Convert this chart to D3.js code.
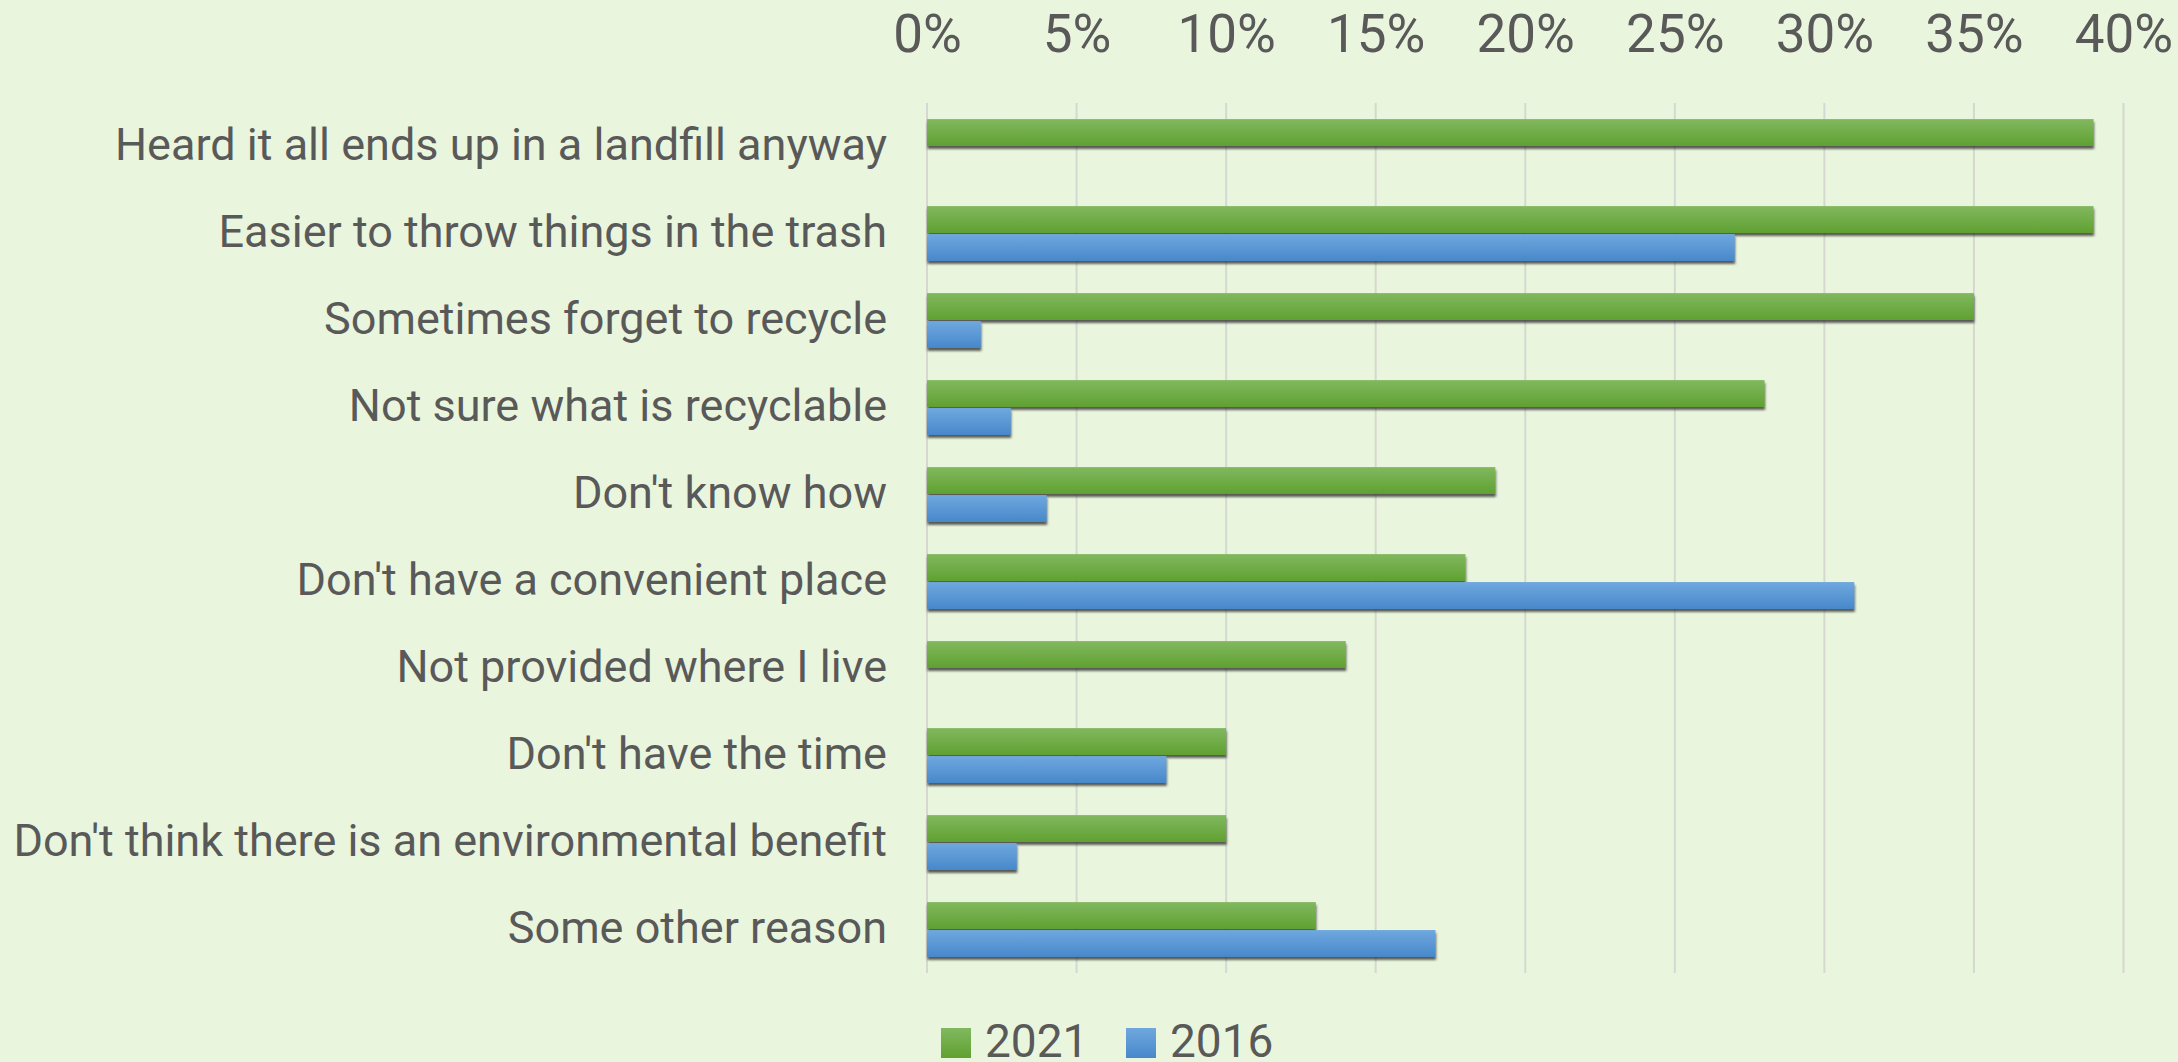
<!DOCTYPE html>
<html>
<head>
<meta charset="utf-8">
<script src="https://cdn.jsdelivr.net/npm/d3@7"></script>
<style>
  html, body { margin: 0; padding: 0; background: #eaf5dd; }
  svg { display: block; }
</style>
</head>
<body>
<div id="chart"></div>
<script>
var categories = [
    "Heard it all ends up in a landfill anyway",
    "Easier to throw things in the trash",
    "Sometimes forget to recycle",
    "Not sure what is recyclable",
    "Don't know how",
    "Don't have a convenient place",
    "Not provided where I live",
    "Don't have the time",
    "Don't think there is an environmental benefit",
    "Some other reason"
];
var seriesNames = ["2021", "2016"];
var values2021 = [39, 39, 35, 28, 19, 18, 14, 10, 10, 13];
var values2016 = [null, 27, 1.8, 2.8, 4, 31, null, 8, 3, 17];
var tickValues = [0, 5, 10, 15, 20, 25, 30, 35, 40];

var width = 2178, height = 1062;
var plotLeft = 927, plotRight = 2123.5, plotTop = 103, plotBottom = 973;

var svg = d3.select("#chart")
    .append("svg")
    .attr("width", width)
    .attr("height", height);

svg.append("rect")
    .attr("width", width)
    .attr("height", height)
    .attr("fill", "#eaf5dd");

var defs = svg.append("defs");

function gradient(id, c1, c2) {
    var g = defs.append("linearGradient")
        .attr("id", id)
        .attr("x1", 0).attr("y1", 0)
        .attr("x2", 0).attr("y2", 1);
    g.append("stop").attr("offset", "0%").attr("stop-color", c1);
    g.append("stop").attr("offset", "100%").attr("stop-color", c2);
}
gradient("g2021", "#81b85f", "#60a131");
gradient("g2016", "#70a8de", "#4788cb");

var shadow = defs.append("filter")
    .attr("id", "shadow")
    .attr("x", "-5%").attr("y", "-20%")
    .attr("width", "110%").attr("height", "150%");
shadow.append("feDropShadow")
    .attr("dx", 0.5)
    .attr("dy", 3)
    .attr("stdDeviation", 1.2)
    .attr("flood-color", "#2a2a2a")
    .attr("flood-opacity", 0.75);

var x = d3.scaleLinear()
    .domain([0, 40])
    .range([plotLeft, plotRight]);

var y = d3.scaleBand()
    .domain(categories)
    .range([plotTop, plotBottom])
    .paddingInner(0.37)
    .paddingOuter(0.185);

var ySub = d3.scaleBand()
    .domain(seriesNames)
    .range([0, y.bandwidth()])
    .paddingInner(0.04);

var color = d3.scaleOrdinal()
    .domain(seriesNames)
    .range(["url(#g2021)", "url(#g2016)"]);

// gridlines
svg.append("g")
    .selectAll("line")
    .data(tickValues)
    .enter()
    .append("line")
    .attr("x1", function(d) { return x(d); })
    .attr("x2", function(d) { return x(d); })
    .attr("y1", plotTop)
    .attr("y2", plotBottom)
    .attr("stroke", "#d5d8d0")
    .attr("stroke-width", 2);

// top axis labels
var xAxis = svg.append("g")
    .attr("transform", "translate(0,52)")
    .call(d3.axisTop(x)
        .tickValues(tickValues)
        .tickSize(0)
        .tickPadding(0)
        .tickFormat(function(d) { return d + "%"; }));
xAxis.select(".domain").remove();
xAxis.selectAll("text")
    .attr("font-family", "Roboto, 'Noto Sans', sans-serif")
    .attr("font-size", 53)
    .attr("fill", "#595959")
    .attr("dy", 0);

// category labels
svg.append("g")
    .selectAll("text")
    .data(categories)
    .enter()
    .append("text")
    .attr("x", 887)
    .attr("y", function(d) { return y(d) + y.bandwidth() / 2 + 13; })
    .attr("text-anchor", "end")
    .attr("font-family", "Roboto, 'Noto Sans', sans-serif")
    .attr("font-size", 45)
    .attr("fill", "#595959")
    .text(function(d) { return d; });

// bars
var rows = categories.map(function(c, i) {
    return {name: c, values: [
        {key: "2021", value: values2021[i]},
        {key: "2016", value: values2016[i]}
    ]};
});

var group = svg.append("g")
    .selectAll("g")
    .data(rows)
    .enter()
    .append("g")
    .attr("transform", function(d) { return "translate(0," + y(d.name) + ")"; });

group.selectAll("rect")
    .data(function(d) {
        return d.values.filter(function(v) { return v.value != null; });
    })
    .enter()
    .append("rect")
    .attr("x", x(0))
    .attr("y", function(d) { return ySub(d.key); })
    .attr("width", function(d) { return x(d.value) - x(0); })
    .attr("height", ySub.bandwidth())
    .attr("fill", function(d) { return color(d.key); })
    .attr("filter", "url(#shadow)");

// legend
var legend = svg.append("g")
    .selectAll("g")
    .data(seriesNames)
    .enter()
    .append("g")
    .attr("transform", function(d, i) { return "translate(" + (941 + i * 185) + ",1028)"; });

legend.append("rect")
    .attr("width", 30)
    .attr("height", 30)
    .attr("fill", function(d) { return color(d); });

legend.append("text")
    .attr("x", 44)
    .attr("y", 29)
    .attr("font-family", "Roboto, 'Noto Sans', sans-serif")
    .attr("font-size", 46)
    .attr("fill", "#595959")
    .text(function(d) { return d; });
</script>
</body>
</html>
